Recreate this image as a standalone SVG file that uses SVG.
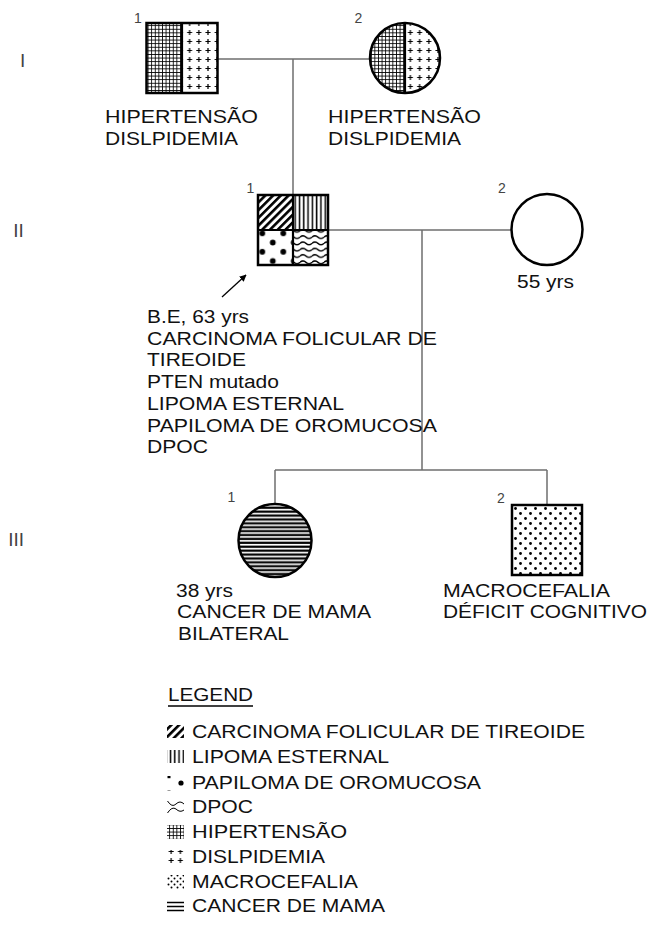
<svg xmlns="http://www.w3.org/2000/svg" width="652" height="927" viewBox="0 0 652 927">
<style>
.t{font-family:"Liberation Sans",Arial,sans-serif;font-size:18px;fill:#111}
.n{font-family:"Liberation Sans",Arial,sans-serif;font-size:14px;fill:#444}
.g{font-family:"Liberation Sans",Arial,sans-serif;font-size:19px;fill:#444}
.ol{fill:none;stroke:#000;stroke-width:2.5}
.dv{stroke:#000;stroke-width:2.2;fill:none}
.c{stroke:#6e6e6e;stroke-width:1.5;fill:none}
</style>
<defs>
<pattern id="grid" patternUnits="userSpaceOnUse" width="3.6" height="3.6">
<path d="M0 0.4H3.6M0.4 0V3.6" stroke="#000" stroke-width="0.9"/>
</pattern>
<pattern id="plus" patternUnits="userSpaceOnUse" width="9.2" height="9" x="1" y="1">
<path d="M2.1 4.5h5M4.6 2v5" stroke="#000" stroke-width="1.2"/>
</pattern>
<pattern id="diag" patternUnits="userSpaceOnUse" width="5.5" height="5.5" patternTransform="rotate(45)">
<rect x="0" y="0" width="2.6" height="5.5" fill="#000"/>
</pattern>
<pattern id="vlines" patternUnits="userSpaceOnUse" width="4.3" height="4" x="0.5">
<rect x="1.5" y="0" width="1.5" height="4" fill="#000"/>
</pattern>
<pattern id="bigdots" patternUnits="userSpaceOnUse" width="21" height="18.5" x="262.3" y="233.3">
<circle cx="0" cy="0" r="2.9" fill="#000"/><circle cx="21" cy="0" r="2.9" fill="#000"/>
<circle cx="10.5" cy="9.25" r="2.9" fill="#000"/>
<circle cx="0" cy="18.5" r="2.9" fill="#000"/><circle cx="21" cy="18.5" r="2.9" fill="#000"/>
</pattern>
<pattern id="waves" patternUnits="userSpaceOnUse" width="12" height="6.3" y="1">
<path d="M0 3 Q3 0.4 6 3 T12 3" stroke="#000" stroke-width="1.4" fill="none"/>
</pattern>
<pattern id="hlines" patternUnits="userSpaceOnUse" width="4" height="3.9" y="505">
<rect x="0" y="1.6" width="4" height="2.2" fill="#000"/>
</pattern>
<pattern id="fdots" patternUnits="userSpaceOnUse" width="10" height="10" x="513" y="506">
<circle cx="2.5" cy="2.5" r="1.4" fill="#000"/><circle cx="7.5" cy="7.5" r="1.4" fill="#000"/>
</pattern>
<pattern id="fdots2" patternUnits="userSpaceOnUse" width="6" height="6" x="167" y="883">
<circle cx="1.5" cy="1.5" r="1" fill="#000"/><circle cx="4.5" cy="4.5" r="1" fill="#000"/>
</pattern>
<marker id="arr" viewBox="0 0 10 10" refX="9" refY="5" markerWidth="7" markerHeight="7" markerUnits="userSpaceOnUse" orient="auto">
<path d="M0 0L10 5L0 10Z" fill="#000"/>
</marker>
</defs>

<!-- generation labels -->
<g id="gen-labels">
<text class="g" x="20" y="67">I</text>
<text class="g" x="13.3" y="237">II</text>
<text class="g" x="8.2" y="546">III</text>
</g>

<!-- connectors -->
<g id="connectors">
<path class="c" d="M218 59H370"/>
<path class="c" d="M293 59V195"/>
<path class="c" d="M329 230H511.5"/>
<path class="c" d="M422 230V470"/>
<path class="c" d="M275 470H547"/>
<path class="c" d="M275 470V504"/>
<path class="c" d="M547 470V505"/>
<path d="M222 297L246 275" stroke="#000" stroke-width="1.3" marker-end="url(#arr)"/>
</g>

<g id="I-1">
<rect x="146.5" y="23" width="35.5" height="70" fill="url(#grid)"/>
<rect x="182" y="23" width="35.5" height="70" fill="url(#plus)"/>
<path class="dv" d="M182 23V93"/>
<rect class="ol" x="146.5" y="23" width="71" height="70"/>
<text class="n" x="134" y="23">1</text>
<text class="t" x="105" y="123" textLength="153" lengthAdjust="spacingAndGlyphs">HIPERTENSÃO</text>
<text class="t" x="105" y="145" textLength="133" lengthAdjust="spacingAndGlyphs">DISLPIDEMIA</text>
</g>

<g id="I-2">
<path d="M405 23A35 35 0 0 0 405 93Z" fill="url(#grid)"/>
<path d="M405 23A35 35 0 0 1 405 93Z" fill="url(#plus)"/>
<path class="dv" d="M405 23V93"/>
<circle class="ol" cx="405" cy="58" r="35"/>
<text class="n" x="354.5" y="23">2</text>
<text class="t" x="328" y="123" textLength="153" lengthAdjust="spacingAndGlyphs">HIPERTENSÃO</text>
<text class="t" x="328" y="145" textLength="133" lengthAdjust="spacingAndGlyphs">DISLPIDEMIA</text>
</g>

<g id="II-1">
<rect x="258" y="195" width="35" height="35" fill="url(#diag)"/>
<rect x="293" y="195" width="35" height="35" fill="url(#vlines)"/>
<rect x="258" y="230" width="35" height="35" fill="url(#bigdots)"/>
<rect x="293" y="230" width="35" height="35" fill="url(#waves)"/>
<path class="dv" d="M293 195V265M258 230H328"/>
<rect class="ol" x="258" y="195" width="70" height="70"/>
<text class="n" x="246.5" y="193">1</text>
<text class="t" x="147" y="323" textLength="102" lengthAdjust="spacingAndGlyphs">B.E, 63 yrs</text>
<text class="t" x="147" y="345" textLength="290" lengthAdjust="spacingAndGlyphs">CARCINOMA FOLICULAR DE</text>
<text class="t" x="147" y="366" textLength="99" lengthAdjust="spacingAndGlyphs">TIREOIDE</text>
<text class="t" x="147" y="388" textLength="132" lengthAdjust="spacingAndGlyphs">PTEN mutado</text>
<text class="t" x="147" y="410" textLength="197" lengthAdjust="spacingAndGlyphs">LIPOMA ESTERNAL</text>
<text class="t" x="147" y="432" textLength="290" lengthAdjust="spacingAndGlyphs">PAPILOMA DE OROMUCOSA</text>
<text class="t" x="147" y="453" textLength="61" lengthAdjust="spacingAndGlyphs">DPOC</text>
</g>

<g id="II-2">
<circle class="ol" cx="547" cy="229.5" r="35.5" fill="#fff"/>
<text class="n" x="498" y="193">2</text>
<text class="t" x="517" y="288" textLength="57" lengthAdjust="spacingAndGlyphs">55 yrs</text>
</g>

<g id="III-1">
<circle cx="275" cy="540.5" r="36.5" fill="url(#hlines)"/>
<circle class="ol" cx="275" cy="540.5" r="36.5"/>
<text class="n" x="227.5" y="502">1</text>
<text class="t" x="176" y="597" textLength="57" lengthAdjust="spacingAndGlyphs">38 yrs</text>
<text class="t" x="177" y="618" textLength="194" lengthAdjust="spacingAndGlyphs">CANCER DE MAMA</text>
<text class="t" x="178" y="640" textLength="111" lengthAdjust="spacingAndGlyphs">BILATERAL</text>
</g>

<g id="III-2">
<rect x="512" y="505" width="70" height="70" fill="url(#fdots)"/>
<rect class="ol" x="512" y="505" width="70" height="70"/>
<text class="n" x="497" y="503">2</text>
<text class="t" x="443" y="597" textLength="167" lengthAdjust="spacingAndGlyphs">MACROCEFALIA</text>
<text class="t" x="443" y="618" textLength="204" lengthAdjust="spacingAndGlyphs">DÉFICIT COGNITIVO</text>
</g>

<g id="legend">
<text class="t" x="168" y="701" textLength="85" lengthAdjust="spacingAndGlyphs">LEGEND</text>
<path d="M168 706H253" stroke="#000" stroke-width="1.5"/>
<rect x="167" y="725" width="17" height="13" fill="url(#diag)"/>
<text class="t" x="192" y="738" textLength="393" lengthAdjust="spacingAndGlyphs">CARCINOMA FOLICULAR DE TIREOIDE</text>
<rect x="167" y="750" width="17" height="13" fill="url(#vlines)"/>
<text class="t" x="192" y="763" textLength="197" lengthAdjust="spacingAndGlyphs">LIPOMA ESTERNAL</text>
<rect x="167.5" y="776" width="3" height="2.2" fill="#000"/>
<circle cx="181" cy="783" r="2.6" fill="#000"/>
<path d="M167.5 790.5h3" stroke="#999" stroke-width="1"/>
<text class="t" x="192" y="789" textLength="289" lengthAdjust="spacingAndGlyphs">PAPILOMA DE OROMUCOSA</text>
<path d="M167.5 801Q172 808 176 804Q180 800 184 804M167.5 813Q172 806 176 809Q180 813 184 810" stroke="#000" stroke-width="1" fill="none"/>
<text class="t" x="192" y="813" textLength="61" lengthAdjust="spacingAndGlyphs">DPOC</text>
<rect x="167" y="825" width="17" height="14" fill="url(#grid)"/>
<text class="t" x="192" y="838" textLength="155" lengthAdjust="spacingAndGlyphs">HIPERTENSÃO</text>
<rect x="167" y="850" width="17" height="14" fill="url(#plus)"/>
<text class="t" x="192" y="863" textLength="133" lengthAdjust="spacingAndGlyphs">DISLPIDEMIA</text>
<rect x="167" y="875" width="17" height="14" fill="url(#fdots2)"/>
<text class="t" x="192" y="888" textLength="166" lengthAdjust="spacingAndGlyphs">MACROCEFALIA</text>
<path d="M167 902.5H184M167 906.5H184M167 910.5H184" stroke="#000" stroke-width="1.5"/>
<text class="t" x="192" y="912" textLength="193" lengthAdjust="spacingAndGlyphs">CANCER DE MAMA</text>
</g>
</svg>
